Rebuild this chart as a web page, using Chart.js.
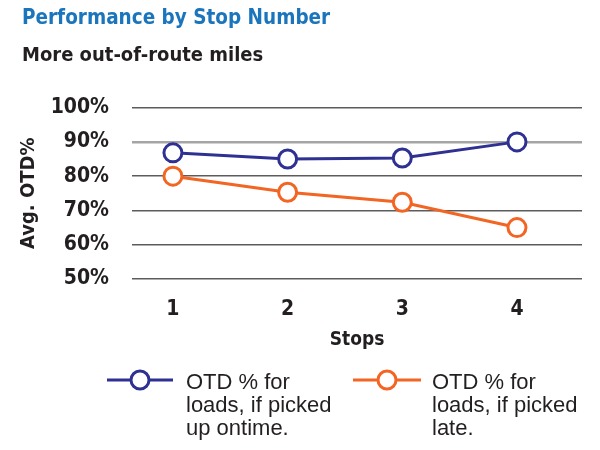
<!DOCTYPE html>
<html>
<head>
<meta charset="utf-8">
<script src="https://cdn.jsdelivr.net/npm/chart.js@4"></script>
<style>
  html, body { margin: 0; padding: 0; background: #fff; }
  .wrap { width: 600px; height: 450px; }
</style>
</head>
<body>
<div class="wrap"><canvas id="chart" width="600" height="450"></canvas></div>
<script>
// data
const stops = [1, 2, 3, 4];
const ontime = [86.8, 85, 85.3, 90];
const late = [80, 75.3, 72.4, 65];
const yTicks = [50, 60, 70, 80, 90, 100];
const ontimeLabel = ["OTD % for", "loads, if picked", "up ontime."];
const lateLabel = ["OTD % for", "loads, if picked", "late."];

const blue = "#2e3192";
const orange = "#f26522";
const narrow = "'DejaVu Sans Condensed', 'Liberation Sans Narrow', sans-serif";
const plain = "'Liberation Sans', Arial, sans-serif";

function toPoints(values) {
  return stops.map((s, i) => ({ x: s, y: values[i] }));
}

// legend drawn under the axis, line + ring + 3 text lines
const bottomLegend = {
  id: "bottomLegend",
  afterDraw(chart) {
    const ctx = chart.ctx;
    const items = [
      { color: blue, lines: ontimeLabel, x0: 107, x1: 173, cx: 140, tx: 186 },
      { color: orange, lines: lateLabel, x0: 353, x1: 421, cx: 387, tx: 432 },
    ];
    ctx.save();
    items.forEach((it) => {
      ctx.strokeStyle = it.color;
      ctx.lineWidth = 3;
      ctx.beginPath();
      ctx.moveTo(it.x0, 380);
      ctx.lineTo(it.x1, 380);
      ctx.stroke();
      ctx.beginPath();
      ctx.arc(it.cx, 380, 9, 0, Math.PI * 2);
      ctx.fillStyle = "#fff";
      ctx.fill();
      ctx.stroke();
      ctx.fillStyle = "#231f20";
      ctx.font = "22px " + plain;
      ctx.textBaseline = "middle";
      ctx.textAlign = "left";
      it.lines.forEach((t, i) => ctx.fillText(t, it.tx, 383 + i * 23));
    });
    ctx.restore();
  },
};

new Chart(document.getElementById("chart"), {
  type: "line",
  data: {
    datasets: [
      {
        label: ontimeLabel.join(" "),
        data: toPoints(ontime),
        borderColor: blue,
        backgroundColor: "#fff",
        borderWidth: 3,
        pointRadius: 9,
        pointBorderWidth: 3,
        pointBackgroundColor: "#fff",
        tension: 0,
      },
      {
        label: lateLabel.join(" "),
        data: toPoints(late),
        borderColor: orange,
        backgroundColor: "#fff",
        borderWidth: 3,
        pointRadius: 9,
        pointBorderWidth: 3,
        pointBackgroundColor: "#fff",
        tension: 0,
      },
    ],
  },
  options: {
    responsive: false,
    animation: false,
    layout: { padding: { left: 22, right: 18, top: 0, bottom: 95 } },
    plugins: {
      legend: { display: false },
      tooltip: { enabled: false },
      title: {
        display: true,
        text: "Performance by Stop Number",
        align: "start",
        color: "#1b75bc",
        font: { family: narrow, size: 20.5, weight: "bold" },
        padding: { top: 6, bottom: 13 },
      },
      subtitle: {
        display: true,
        text: "More out-of-route miles",
        align: "start",
        color: "#231f20",
        font: { family: narrow, size: 20, weight: "bold" },
        padding: { top: 0, bottom: 40 },
      },
    },
    scales: {
      x: {
        type: "linear",
        min: 0.643,
        max: 4.567,
        grid: { display: false },
        border: { display: false },
        afterBuildTicks: (scale) => {
          scale.ticks = stops.map((v) => ({ value: v }));
        },
        afterFit: (scale) => {
          scale.height = 76;
        },
        ticks: {
          padding: 9.5,
          color: "#231f20",
          font: { family: narrow, size: 21, weight: "bold" },
        },
        title: {
          display: true,
          text: "Stops",
          color: "#231f20",
          font: { family: narrow, size: 19, weight: "bold" },
          padding: { top: 4, bottom: 4 },
        },
      },
      y: {
        min: 50,
        max: 100,
        border: { display: false },
        afterBuildTicks: (scale) => {
          scale.ticks = yTicks.map((v) => ({ value: v }));
        },
        afterFit: (scale) => {
          scale.width = 110;
        },
        grid: {
          drawTicks: false,
          color: (c) => (c.tick && c.tick.value === 90 ? "#a5a5a5" : "#5c5c5c"),
          lineWidth: (c) => (c.tick && c.tick.value === 90 ? 2.5 : 1.5),
        },
        ticks: {
          padding: 23,
          color: "#231f20",
          font: { family: narrow, size: 21, weight: "bold" },
          callback: (v) => v + "%",
        },
        title: {
          display: true,
          text: "Avg. OTD%",
          color: "#231f20",
          font: { family: narrow, size: 20, weight: "bold" },
          padding: { top: -5.6, bottom: 0 },
        },
      },
    },
  },
  plugins: [bottomLegend],
});
</script>
</body>
</html>
